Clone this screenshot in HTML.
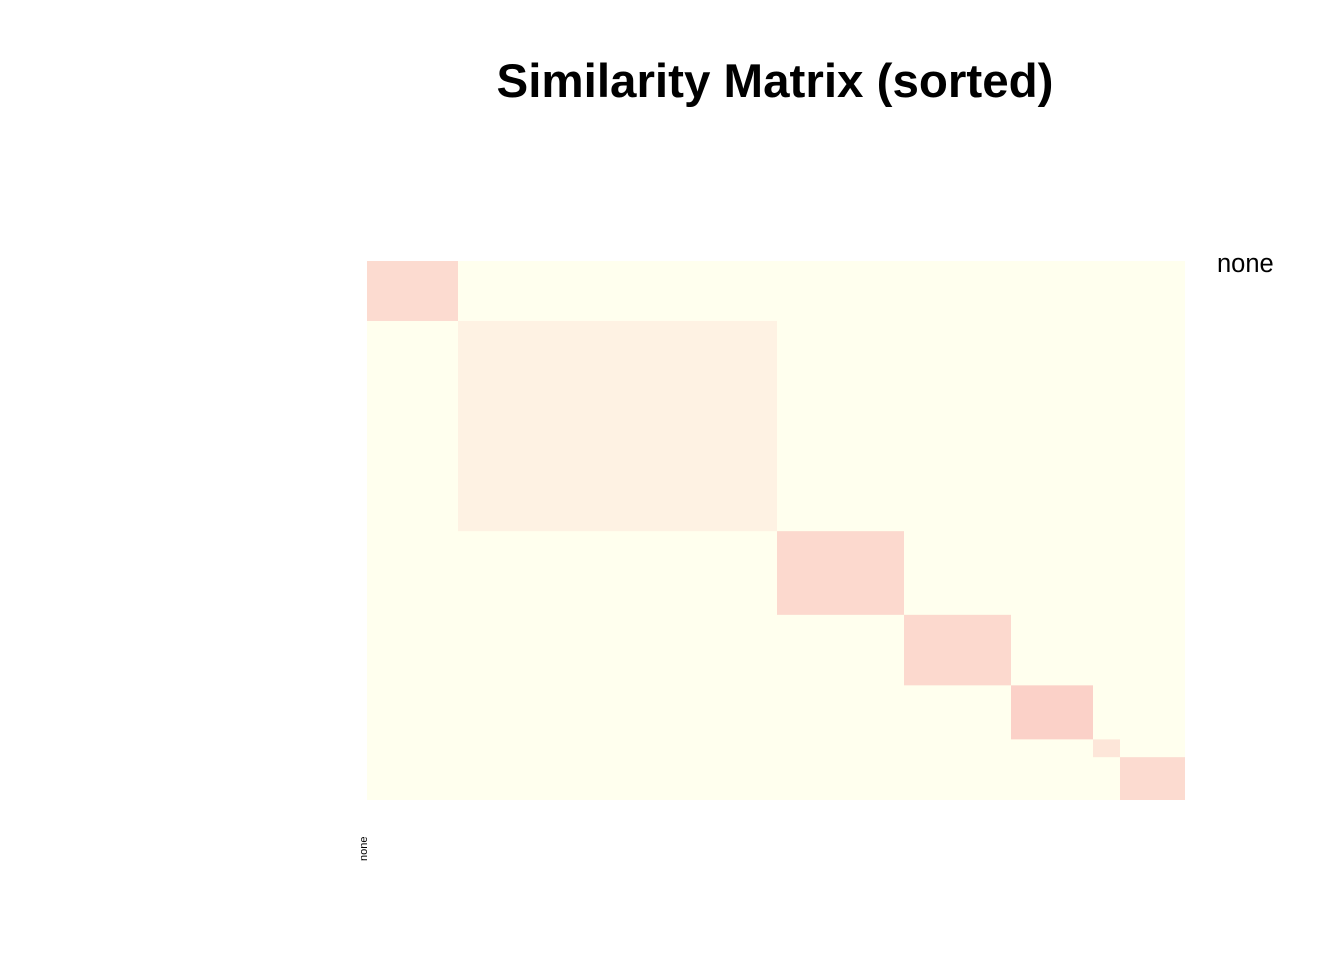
<!DOCTYPE html>
<html><head><meta charset="utf-8"><style>
body{margin:0;background:#fff;font-family:"Liberation Sans",sans-serif}
</style></head><body>
<svg id="chart" width="1344" height="960" xmlns="http://www.w3.org/2000/svg">
<text x="775" y="97" text-anchor="middle" font-size="47.5" font-weight="bold" font-family="Liberation Sans, sans-serif">Similarity Matrix (sorted)</text>
<text x="1217" y="272" font-size="25.5" font-family="Liberation Sans, sans-serif">none</text>
<text transform="translate(367,861) rotate(-90)" font-size="11" font-family="Liberation Sans, sans-serif">none</text>
<g id="cells"></g>
</svg>
<script>
const clusters = ["c1","c2","c3","c4","c5","c6","c7"];
const clusterSizes = [91, 319, 127, 107, 82, 27, 65];
const withinSimilarity = [0.14, 0.05, 0.15, 0.15, 0.18, 0.10, 0.14];
const backgroundSimilarity = 0;

const X0 = 367, X1 = 1185, Y0 = 261, Y1 = 800;
const total = clusterSizes.reduce((a,b)=>a+b,0);
const xs = i => X0 + (X1-X0)*i/total;
const ys = i => Y0 + (Y1-Y0)*i/total;
function color(v){
  const lo=[255,255,238], hi=[232,0,26];
  const c=lo.map((l,k)=>Math.round(l+(hi[k]-l)*v));
  return `rgb(${c[0]},${c[1]},${c[2]})`;
}
const NS="http://www.w3.org/2000/svg";
const g=document.getElementById('cells');
const bg=document.createElementNS(NS,'rect');


bg.setAttribute('x',X0);bg.setAttribute('y',Y0);
bg.setAttribute('width',X1-X0);bg.setAttribute('height',Y1-Y0);
bg.setAttribute('fill',color(backgroundSimilarity));
g.appendChild(bg);
let start=0;
clusters.forEach((c,i)=>{
  const r=document.createElementNS(NS,'rect');
  
  
  r.setAttribute('x',xs(start));r.setAttribute('y',ys(start));
  r.setAttribute('width',xs(start+clusterSizes[i])-xs(start));
  r.setAttribute('height',ys(start+clusterSizes[i])-ys(start));
  r.setAttribute('fill',color(withinSimilarity[i]));
  g.appendChild(r);
  start+=clusterSizes[i];
});
</script>
</body></html>
